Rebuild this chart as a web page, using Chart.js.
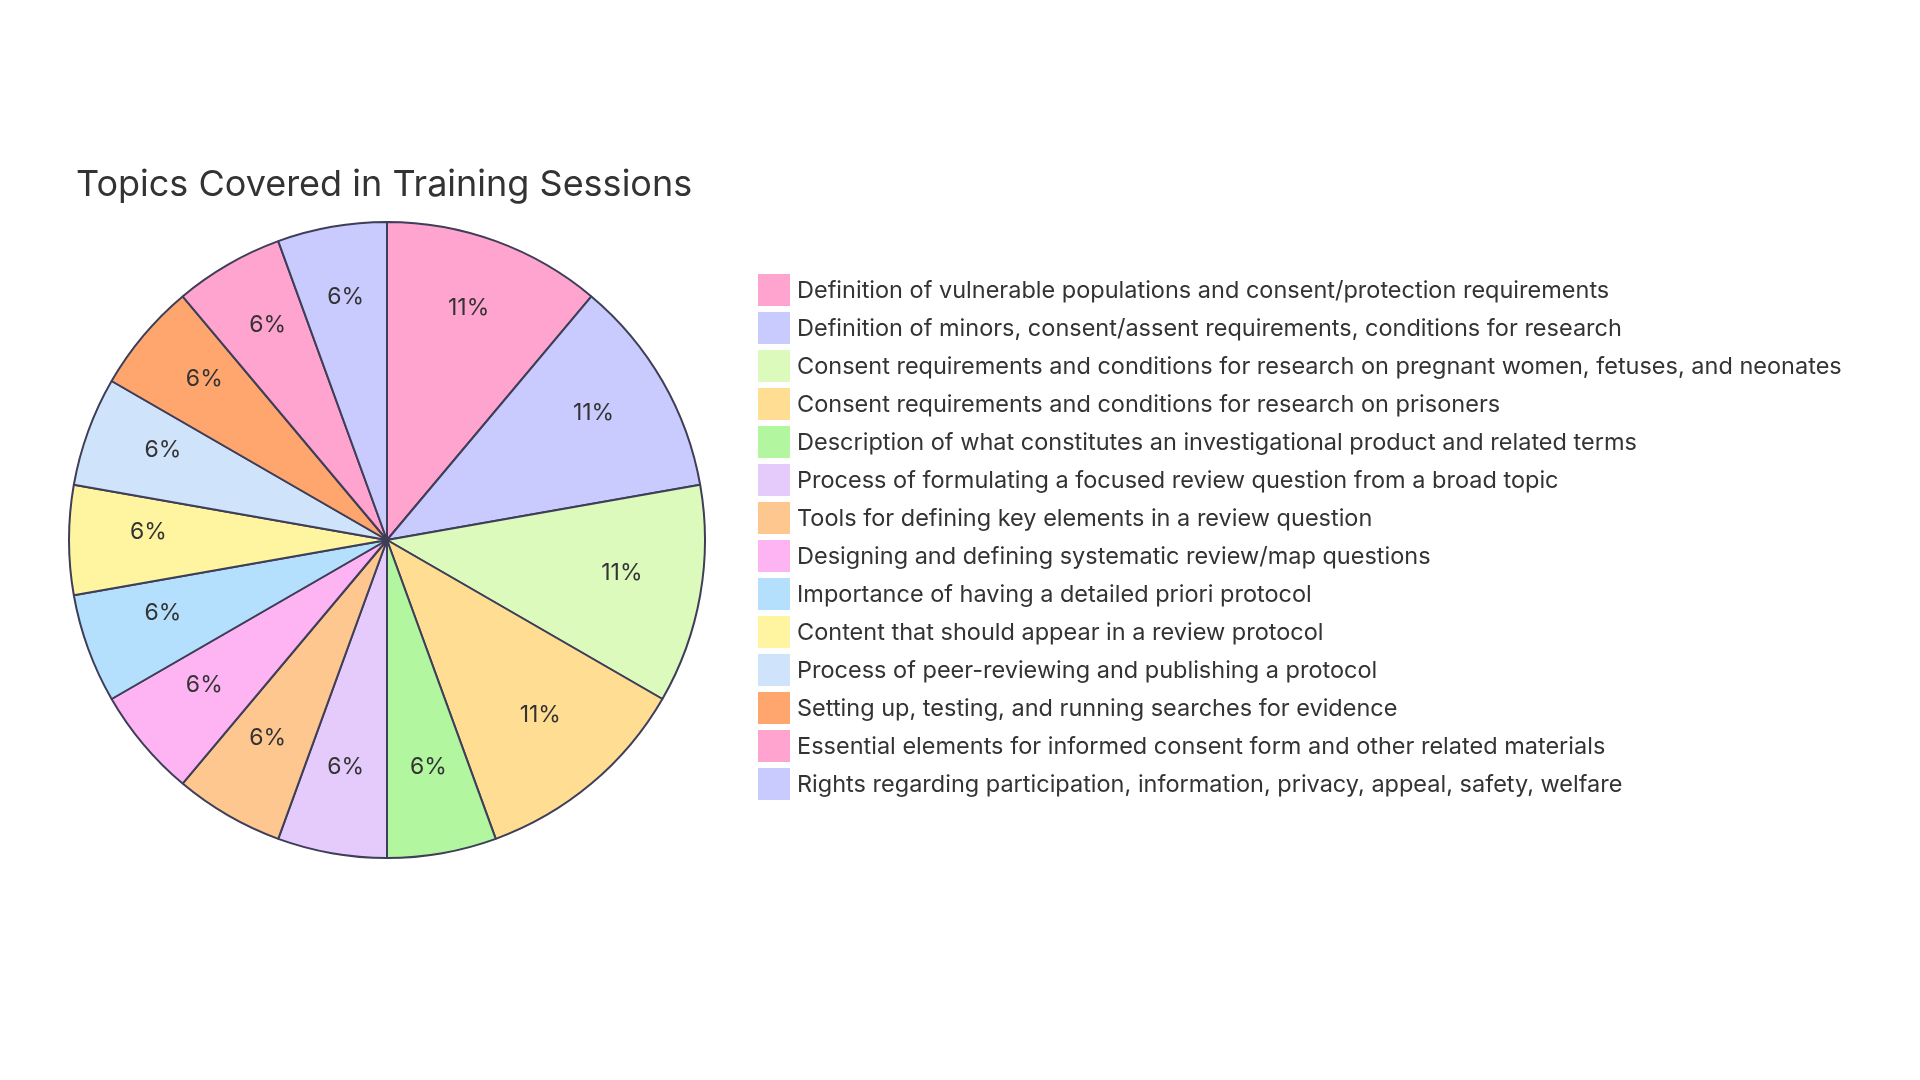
<!DOCTYPE html>
<html>
<head>
<meta charset="utf-8">
<script src="https://cdn.jsdelivr.net/npm/chart.js@4/dist/chart.umd.min.js"></script>
<style>
  html, body { margin: 0; padding: 0; background: #ffffff; }
  #c { display: block; }
</style>
</head>
<body>
<canvas id="c" width="1920" height="1080" style="width:1920px;height:1080px"></canvas>
<script>
const chartTitle = 'Topics Covered in Training Sessions';
const categories = [
  'Definition of vulnerable populations and consent/protection requirements',
  'Definition of minors, consent/assent requirements, conditions for research',
  'Consent requirements and conditions for research on pregnant women, fetuses, and neonates',
  'Consent requirements and conditions for research on prisoners',
  'Description of what constitutes an investigational product and related terms',
  'Process of formulating a focused review question from a broad topic',
  'Tools for defining key elements in a review question',
  'Designing and defining systematic review/map questions',
  'Importance of having a detailed priori protocol',
  'Content that should appear in a review protocol',
  'Process of peer-reviewing and publishing a protocol',
  'Setting up, testing, and running searches for evidence',
  'Essential elements for informed consent form and other related materials',
  'Rights regarding participation, information, privacy, appeal, safety, welfare'
];
const values = [2, 2, 2, 2, 1, 1, 1, 1, 1, 1, 1, 1, 1, 1];
const sliceColors = [
  '#FFA3CF', '#C9CBFE', '#DCFABB', '#FFDE94', '#B2F7A0', '#E5CBFC', '#FFC790',
  '#FEB3F3', '#B4E0FE', '#FFF5A0', '#CFE3FB', '#FFA56E', '#FFA3CF', '#C9CBFE'
];

const FONT = 'Inter';
const textColor = '#333333';

// legend layout (drawn by a small plugin so long labels are not clipped)
const legendStyle = { boxX: 758, textX: 797, firstTop: 274, step: 38, box: 32, fontSize: 23.5 };

const pctLabels = {
  id: 'pctLabels',
  afterDatasetsDraw(chart) {
    const ctx = chart.ctx;
    const meta = chart.getDatasetMeta(0);
    const data = chart.data.datasets[0].data;
    const total = data.reduce((a, b) => a + b, 0);
    ctx.save();
    ctx.font = '23px ' + FONT;
    ctx.fillStyle = textColor;
    ctx.textAlign = 'center';
    ctx.textBaseline = 'middle';
    meta.data.forEach((arc, i) => {
      const p = arc.getProps(['x', 'y', 'startAngle', 'endAngle', 'outerRadius'], true);
      const mid = (p.startAngle + p.endAngle) / 2;
      const r = p.outerRadius * 0.75;
      const pct = Math.round(data[i] / total * 100) + '%';
      ctx.fillText(pct, p.x + Math.cos(mid) * r, p.y + Math.sin(mid) * r - 8);
    });
    ctx.restore();
  }
};

const sideLegend = {
  id: 'sideLegend',
  afterDraw(chart) {
    const ctx = chart.ctx;
    const labels = chart.data.labels;
    const colors = chart.data.datasets[0].backgroundColor;
    const s = legendStyle;
    ctx.save();
    ctx.font = s.fontSize + 'px ' + FONT;
    ctx.textAlign = 'left';
    ctx.textBaseline = 'middle';
    labels.forEach((lab, i) => {
      const top = s.firstTop + i * s.step;
      ctx.fillStyle = colors[i % colors.length];
      ctx.fillRect(s.boxX, top, s.box, s.box);
      ctx.fillStyle = textColor;
      ctx.fillText(lab, s.textX, top + s.box / 2 + 1);
    });
    ctx.restore();
  }
};

const titleShift = {
  id: 'titleShift',
  afterLayout(chart) {
    if (chart.titleBlock) chart.titleBlock.left = 76;
  }
};

new Chart(document.getElementById('c'), {
  type: 'pie',
  data: {
    labels: categories,
    datasets: [{
      data: values,
      backgroundColor: sliceColors,
      borderColor: '#3e3e58',
      borderWidth: 2
    }]
  },
  options: {
    responsive: false,
    devicePixelRatio: 1,
    animation: false,
    layout: { padding: { left: 22, right: 1168, top: 140, bottom: 221 } },
    plugins: {
      title: {
        display: true,
        text: chartTitle,
        align: 'start',
        color: textColor,
        font: { family: FONT, size: 36, weight: '400', lineHeight: 1.2 },
        padding: { top: 23.4, bottom: 14.4 }
      },
      legend: { display: false },
      tooltip: { enabled: false }
    }
  },
  plugins: [pctLabels, sideLegend, titleShift]
});
</script>
</body>
</html>
